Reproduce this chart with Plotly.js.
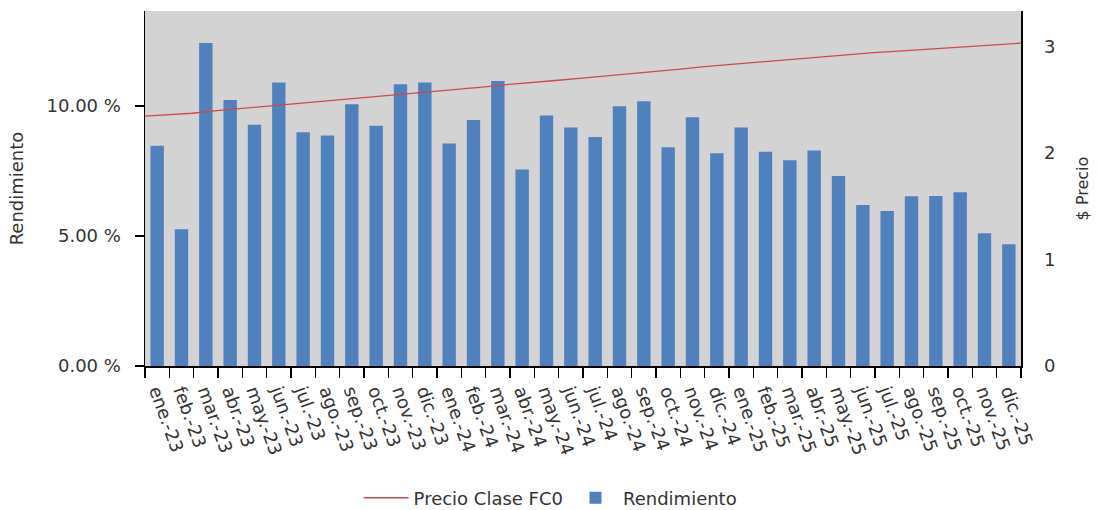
<!DOCTYPE html>
<html>
<head>
<meta charset="utf-8">
<script src="https://cdn.plot.ly/plotly-3.0.1.min.js"></script>
<style>
  html, body { margin: 0; padding: 0; background: #fff; }
  #chart { width: 1098px; height: 510px; }
</style>
</head>
<body>
<div id="chart"></div>
<script>
// Monthly categories (bars)
const meses = [
  'ene.-23','feb.-23','mar.-23','abr.-23','may.-23','jun.-23',
  'jul.-23','ago.-23','sep.-23','oct.-23','nov.-23','dic.-23',
  'ene.-24','feb.-24','mar.-24','abr.-24','may.-24','jun.-24',
  'jul.-24','ago.-24','sep.-24','oct.-24','nov.-24','dic.-24',
  'ene.-25','feb.-25','mar.-25','abr.-25','may.-25','jun.-25',
  'jul.-25','ago.-25','sep.-25','oct.-25','nov.-25','dic.-25'
];

// Monthly yield, in percent
const rendimiento = [
  8.47, 5.26, 12.42, 10.23, 9.28, 10.90, 8.99, 8.86, 10.06, 9.24, 10.83, 10.90,
  8.56, 9.46, 10.96, 7.56, 9.63, 9.17, 8.81, 9.99, 10.18, 8.41, 9.56, 8.18,
  9.17, 8.24, 7.91, 8.29, 7.31, 6.19, 5.96, 6.53, 6.54, 6.68, 5.10, 4.68
];

// Share price of class FC0 at each month boundary
const fechasPrecio = [
  '2023-01-01','2023-02-01','2023-03-01','2023-04-01','2023-05-01','2023-06-01',
  '2023-07-01','2023-08-01','2023-09-01','2023-10-01','2023-11-01','2023-12-01',
  '2024-01-01','2024-02-01','2024-03-01','2024-04-01','2024-05-01','2024-06-01',
  '2024-07-01','2024-08-01','2024-09-01','2024-10-01','2024-11-01','2024-12-01',
  '2025-01-01','2025-02-01','2025-03-01','2025-04-01','2025-05-01','2025-06-01',
  '2025-07-01','2025-08-01','2025-09-01','2025-10-01','2025-11-01','2025-12-01',
  '2026-01-01'
];
const precio = [
  2.346, 2.363, 2.373, 2.398, 2.418, 2.437, 2.459, 2.477, 2.496, 2.516, 2.536, 2.559,
  2.582, 2.600, 2.621, 2.645, 2.661, 2.683, 2.703, 2.723, 2.746, 2.769, 2.788, 2.811,
  2.830, 2.851, 2.871, 2.890, 2.910, 2.928, 2.943, 2.957, 2.973, 2.990, 3.006, 3.019,
  3.031
];

// Axis ticks
const rendTicks = [0, 5, 10];
const rendTickText = ['0.00 %', '5.00 %', '10.00 %'];
const precioTicks = [0, 1, 2, 3];

const barras = {
  type: 'bar',
  name: 'Rendimiento',
  x: meses,
  y: rendimiento,
  xaxis: 'x',
  yaxis: 'y',
  marker: { color: '#4f81bd' },
  hoverinfo: 'skip'
};

const lineaPrecio = {
  type: 'scatter',
  mode: 'lines',
  name: 'Precio Clase FC0',
  x: fechasPrecio,
  y: precio,
  xaxis: 'x2',
  yaxis: 'y2',
  line: { color: '#d04848', width: 1.3 },
  hoverinfo: 'skip'
};

const layout = {
  width: 1098,
  height: 510,
  margin: { l: 145, r: 77, t: 11, b: 144, autoexpand: false },
  paper_bgcolor: '#ffffff',
  plot_bgcolor: '#d3d3d3',
  font: { family: 'DejaVu Sans, Verdana, sans-serif', size: 18, color: '#333333' },
  bargap: 0.45,
  showlegend: true,
  legend: {
    orientation: 'h',
    x: 0.463, xanchor: 'center',
    y: -0.372, yanchor: 'middle',
    traceorder: 'reversed',
    itemwidth: 45,
    font: { size: 18, color: '#333333' },
    bgcolor: 'rgba(0,0,0,0)'
  },
  xaxis: {
    type: 'category',
    range: [-0.5, 35.5],
    automargin: false,
    tickson: 'boundaries',
    ticks: 'outside',
    ticklen: 10,
    tickwidth: 1.5,
    tickcolor: '#000',
    tickangle: 70,
    ticklabelstandoff: 6,
    showline: true,
    linecolor: '#000',
    linewidth: 1.5,
    showgrid: false,
    zeroline: false
  },
  xaxis2: {
    type: 'date',
    overlaying: 'x',
    range: ['2023-01-01', '2026-01-01'],
    visible: false
  },
  yaxis: {
    range: [0, 13.65],
    automargin: false,
    tickmode: 'array',
    tickvals: rendTicks,
    ticktext: rendTickText,
    ticks: 'outside',
    ticklen: 9,
    tickwidth: 1.5,
    tickcolor: '#000',
    ticklabelstandoff: 10,
    showline: true,
    linecolor: '#000',
    linewidth: 1.5,
    showgrid: false,
    zeroline: false,
    title: { text: 'Rendimiento', font: { size: 18 }, standoff: 18 }
  },
  yaxis2: {
    overlaying: 'y',
    side: 'right',
    anchor: 'x',
    automargin: false,
    range: [0, 3.333],
    tickvals: precioTicks,
    ticks: '',
    ticklabelstandoff: 18,
    showline: true,
    linecolor: '#000',
    linewidth: 1.5,
    showgrid: false,
    zeroline: false,
    title: { text: '$ Precio', font: { size: 16 }, standoff: 22 }
  }
};

Plotly.newPlot('chart', [barras, lineaPrecio], layout, { displayModeBar: false, staticPlot: true });
</script>
</body>
</html>
